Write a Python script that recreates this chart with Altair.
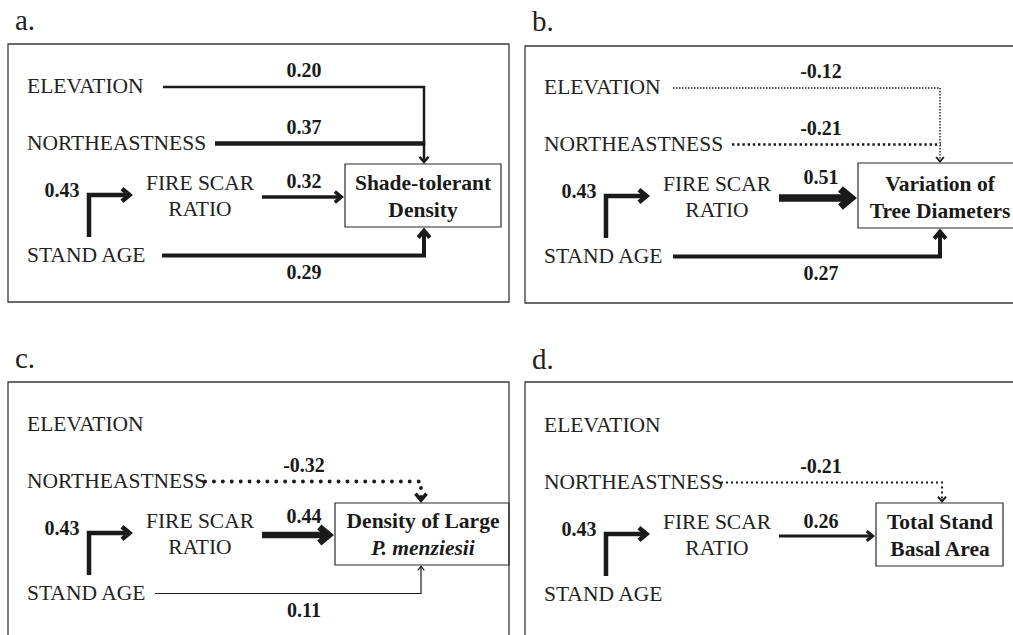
import math
import altair as alt
import pandas as pd

# ---------------- data ----------------
panel_ids = ["a", "b", "c", "d"]
panel_titles = ["a.", "b.", "c.", "d."]
predictors = ["ELEVATION", "NORTHEASTNESS", "STAND AGE"]
mediator_lines = ["FIRE SCAR", "RATIO"]
response_lines = [
    ["Shade-tolerant", "Density"],
    ["Variation of", "Tree Diameters"],
    ["Density of Large", "P. menziesii"],
    ["Total Stand", "Basal Area"],
]
response_italic = [[False, False], [False, False], [False, True], [False, False]]

# standardized path coefficients (None = path not retained)
coef_age_fire = [0.43, 0.43, 0.43, 0.43]
coef_elevation = [0.20, -0.12, None, None]
coef_northeast = [0.37, -0.21, -0.32, -0.21]
coef_fire = [0.32, 0.51, 0.44, 0.26]
coef_age = [0.29, 0.27, 0.11, None]

# ---------------- layout (pixels, relative to each panel) ----------------
OFFSET = {"a": (0, 0), "b": (517, 1), "c": (0, 338), "d": (517, 339)}
FRAME = {"a": (8, 44, 509, 302), "b": (8, 45, 497, 302),
         "c": (8, 44, 509, 310), "d": (8, 43, 497, 310)}
BOX = {"a": (345, 164, 501, 227), "b": (341, 162, 497, 227),
       "c": (335, 165, 509, 227), "d": (359, 164, 486, 227)}
JUNCTION_X = {"a": 424, "b": 423, "c": 421, "d": 425}
ROW_Y = {"ELEVATION": 87, "NORTHEASTNESS": 143.5, "STAND AGE": 255.5}
TEXT_X = 27
MEDIATOR = (200, 183.5, 209.5)
RESPONSE_TEXT = (423, 184, 210.5)
FIRE_Y, FIRE_START = 197, 262
ELBOW = (89, 237, 195, 133)
AGE_FIRE_LABEL = (62, 191)
LABEL_X = 304
TITLE_POS = (15, 30)
START_X = {
    ("a", "ELEVATION"): 163, ("a", "NORTHEASTNESS"): 215, ("a", "STAND AGE"): 162,
    ("b", "ELEVATION"): 156, ("b", "NORTHEASTNESS"): 215, ("b", "STAND AGE"): 156,
    ("c", "NORTHEASTNESS"): 205, ("c", "STAND AGE"): 155,
    ("d", "NORTHEASTNESS"): 204,
}

# ---------------- line styles ----------------
STYLE = {
    ("a", "ELEVATION"): dict(w=2.5), ("a", "NORTHEASTNESS"): dict(w=4.5),
    ("a", "FIRE"): dict(w=3.5), ("a", "STAND AGE"): dict(w=4.0),
    ("b", "ELEVATION"): dict(w=1.4, dash=[1.5, 1.5], cap="butt", hw=1.8),
    ("b", "NORTHEASTNESS"): dict(w=2.4, dash=[2.4, 2.8], cap="butt", hw=2.0),
    ("b", "FIRE"): dict(w=7.5), ("b", "STAND AGE"): dict(w=4.0),
    ("c", "NORTHEASTNESS"): dict(w=3.8, dash=[0.1, 8.8], cap="round", hw=3.6),
    ("c", "FIRE"): dict(w=6.5), ("c", "STAND AGE"): dict(w=1.2),
    ("d", "NORTHEASTNESS"): dict(w=2.0, dash=[2.0, 3.0], cap="butt", hw=2.0),
    ("d", "FIRE"): dict(w=3.0),
    "ELBOW": dict(w=4.5),
}
INK = "#1a1a1a"
TEXT_INK = "#222222"
FONT = "Liberation Serif, Times New Roman, serif"

# ---------------- geometry ----------------
line_rows, head_rows = [], []
dotted_ids = []


def add_path(eid, pts, w, head=True, hw=None, dotted=False):
    if head:
        hw = hw or w
        (x0, y0), (x1, y1) = pts[-2], pts[-1]
        n = math.hypot(x1 - x0, y1 - y0)
        ux, uy = (x1 - x0) / n, (y1 - y0) / n
        px, py = x1 - ux * 0.78 * hw, y1 - uy * 0.78 * hw
        wing = 3.5 + 1.4 * hw
        a = math.radians(40)
        wings = []
        for s in (1, -1):
            c, sn = math.cos(s * a), math.sin(s * a)
            rx, ry = ux * c - uy * sn, ux * sn + uy * c
            wings.append((px - wing * rx, py - wing * ry))
        for i, (x, y) in enumerate([wings[0], (px, py), wings[1]]):
            head_rows.append(dict(id=eid, step=i, x=x, y=y, w=hw))
        pts = pts[:-1] + [(px, py)]
    for i, (x, y) in enumerate(pts):
        line_rows.append(dict(id=eid, step=i, x=x, y=y, w=w, dotted=dotted))
    if dotted:
        dotted_ids.append(eid)


coef_rows, text_rows, mid_rows, resp_rows, title_rows = [], [], [], [], []

for k, pid in enumerate(panel_ids):
    ox, oy = OFFSET[pid]
    T = lambda x, y: (x + ox, y + oy)
    title_rows.append(dict(x=TITLE_POS[0] + ox, y=TITLE_POS[1] + oy, t=panel_titles[k]))
    for name in predictors:
        x, y = T(TEXT_X, ROW_Y[name])
        text_rows.append(dict(x=x, y=y, t=name))
    for yy, t in zip(MEDIATOR[1:], mediator_lines):
        x, y = T(MEDIATOR[0], yy)
        mid_rows.append(dict(x=x, y=y, t=t))
    for yy, t, it in zip(RESPONSE_TEXT[1:], response_lines[k], response_italic[k]):
        x, y = T(RESPONSE_TEXT[0], yy)
        resp_rows.append(dict(x=x, y=y, t=t, italic=it))

    bx0, by0, bx1, by1 = BOX[pid]
    jx = JUNCTION_X[pid]

    # stand age -> fire scar ratio
    ex, ey0, ey1, etip = ELBOW
    add_path(f"{pid}-elbow", [T(ex, ey0), T(ex, ey1), T(etip, ey1)], STYLE["ELBOW"]["w"])
    coef_rows.append(dict(zip(("x", "y"), T(*AGE_FIRE_LABEL)), t=f"{coef_age_fire[k]:.2f}"))

    # paths entering the response from above
    top = [(n, c) for n, c in (("ELEVATION", coef_elevation[k]),
                               ("NORTHEASTNESS", coef_northeast[k])) if c is not None]
    for j, (name, c) in enumerate(top):
        st = STYLE[(pid, name)]
        y = ROW_Y[name]
        dotted = "dash" in st
        if j == 0:
            pts = [T(START_X[(pid, name)], y), T(jx, y), T(jx, by0)]
            add_path(f"{pid}-{name}", pts, st["w"], True, st.get("hw"), dotted)
        else:
            w0 = STYLE[(pid, top[0][0])]["w"]
            pts = [T(START_X[(pid, name)], y), T(jx + w0 / 2, y)]
            add_path(f"{pid}-{name}", pts, st["w"], False, None, dotted)
        coef_rows.append(dict(zip(("x", "y"), T(LABEL_X, y - 16)), t=f"{c:.2f}"))

    # fire scar ratio -> response
    st = STYLE[(pid, "FIRE")]
    add_path(f"{pid}-fire", [T(FIRE_START, FIRE_Y), T(bx0 - 1, FIRE_Y)], st["w"])
    coef_rows.append(dict(zip(("x", "y"), T(LABEL_X, FIRE_Y - (10 + 1.3 * st["w"]))),
                          t=f"{coef_fire[k]:.2f}"))

    # stand age -> response, entering from below
    if coef_age[k] is not None:
        st = STYLE[(pid, "STAND AGE")]
        y = ROW_Y["STAND AGE"]
        pts = [T(START_X[(pid, "STAND AGE")], y), T(jx, y), T(jx, by1 + 0.5)]
        add_path(f"{pid}-age", pts, st["w"])
        coef_rows.append(dict(zip(("x", "y"), T(LABEL_X, y + 17)), t=f"{coef_age[k]:.2f}"))

lines = pd.DataFrame(line_rows)
heads = pd.DataFrame(head_rows)

frames = pd.DataFrame([
    dict(x=FRAME[p][0] + OFFSET[p][0], x2=FRAME[p][2] + OFFSET[p][0],
         y=FRAME[p][1] + OFFSET[p][1], y2=FRAME[p][3] + OFFSET[p][1]) for p in panel_ids])
boxes = pd.DataFrame([
    dict(x=BOX[p][0] + OFFSET[p][0], x2=BOX[p][2] + OFFSET[p][0],
         y=BOX[p][1] + OFFSET[p][1], y2=BOX[p][3] + OFFSET[p][1]) for p in panel_ids])

# ---------------- chart ----------------
W, H = 1013, 635
xs = alt.Scale(domain=[0, W], nice=False, zero=False)
ys = alt.Scale(domain=[0, H], nice=False, zero=False, reverse=True)
X = lambda f="x": alt.X(f"{f}:Q", scale=xs, axis=None)
Y = lambda f="y": alt.Y(f"{f}:Q", scale=ys, axis=None)

frame_layer = alt.Chart(frames).mark_rect(
    filled=False, stroke="#3a3a3a", strokeWidth=1.3, clip=True
).encode(x=X(), x2="x2:Q", y=Y(), y2="y2:Q")

box_layer = alt.Chart(boxes).mark_rect(
    filled=False, stroke="#2a2a2a", strokeWidth=1.2, clip=True
).encode(x=X(), x2="x2:Q", y=Y(), y2="y2:Q")

solid_layer = alt.Chart(lines[~lines["dotted"]]).mark_line(
    color=INK, strokeJoin="miter", strokeCap="butt"
).encode(x=X(), y=Y(), detail="id:N", order="step:Q",
         strokeWidth=alt.StrokeWidth("w:Q", scale=None))

dotted_layers = []
for eid in dotted_ids:
    pid, name = eid.split("-", 1)
    st = STYLE[(pid, name)]
    dotted_layers.append(
        alt.Chart(lines[lines["id"] == eid]).mark_line(
            color=INK, strokeWidth=st["w"], strokeDash=st["dash"], strokeCap=st["cap"]
        ).encode(x=X(), y=Y(), order="step:Q")
    )

head_layer = alt.Chart(heads).mark_line(
    color=INK, strokeJoin="miter", strokeCap="butt"
).encode(x=X(), y=Y(), detail="id:N", order="step:Q",
         strokeWidth=alt.StrokeWidth("w:Q", scale=None))

pred_layer = alt.Chart(pd.DataFrame(text_rows)).mark_text(
    font=FONT, fontSize=21.5, align="left", baseline="middle", color=TEXT_INK
).encode(x=X(), y=Y(), text="t:N")

mid_layer = alt.Chart(pd.DataFrame(mid_rows)).mark_text(
    font=FONT, fontSize=21.5, align="center", baseline="middle", color=TEXT_INK
).encode(x=X(), y=Y(), text="t:N")

resp = pd.DataFrame(resp_rows)
resp_layer = alt.Chart(resp[~resp["italic"]]).mark_text(
    font=FONT, fontSize=21.5, fontWeight="bold", align="center", baseline="middle", color=INK
).encode(x=X(), y=Y(), text="t:N")
resp_it_layer = alt.Chart(resp[resp["italic"]]).mark_text(
    font=FONT, fontSize=21.5, fontWeight="bold", fontStyle="italic", align="center",
    baseline="middle", color=INK
).encode(x=X(), y=Y(), text="t:N")

coef_layer = alt.Chart(pd.DataFrame(coef_rows)).mark_text(
    font=FONT, fontSize=20, fontWeight="bold", align="center", baseline="middle", color=INK
).encode(x=X(), y=Y(), text="t:N")

title_layer = alt.Chart(pd.DataFrame(title_rows)).mark_text(
    font=FONT, fontSize=29, align="left", baseline="alphabetic", color=TEXT_INK
).encode(x=X(), y=Y(), text="t:N")

chart = alt.layer(
    frame_layer, box_layer, solid_layer, *dotted_layers, head_layer,
    pred_layer, mid_layer, resp_layer, resp_it_layer, coef_layer, title_layer
).properties(
    width=W, height=H, padding=0, autosize=alt.AutoSizeParams(type="none"),
    background="white"
).configure_view(stroke=None)

chart.save("out.html", embed_options={"renderer": "svg", "actions": False})
